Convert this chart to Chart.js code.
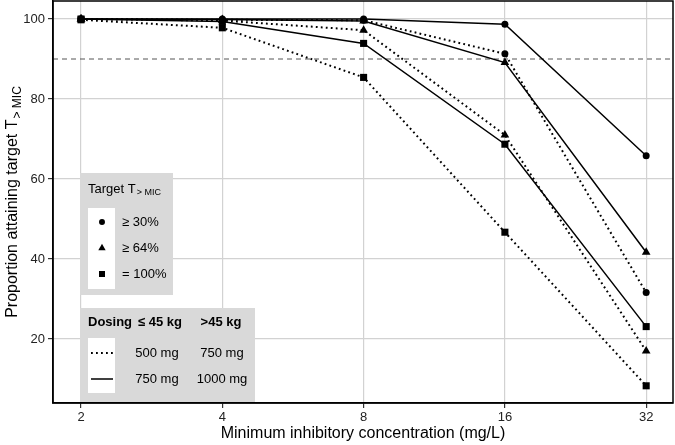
<!DOCTYPE html>
<html>
<head>
<meta charset="utf-8">
<script src="https://cdn.jsdelivr.net/npm/chart.js@4.4.1/dist/chart.umd.min.js"></script>
<style>
  html, body { margin: 0; padding: 0; background: #fff; }
  #wrap { width: 675px; height: 445px; }
</style>
</head>
<body>
<div id="wrap"><canvas id="myChart"></canvas></div>
<script>
// MIC values (mg/L) and tick labels
const mic = [2, 4, 8, 16, 32];
const yTicks = [20, 40, 60, 80, 100];
const targetLine = 90;

// proportion attaining target, low dose (dotted) and high dose (solid)
const t30Low = [100, 99.8, 99.7, 91.3, 31.6];
const t30High = [100, 100, 100, 98.7, 65.8];
const t64Low = [100, 99.6, 97.2, 71, 17];
const t64High = [100, 99.9, 99.5, 89.1, 41.7];
const t100Low = [99.8, 97.8, 85.4, 46.7, 8.3];
const t100High = [100, 99.4, 93.9, 68.7, 23.1];

const targetLabels = ["\u2265 30%", "\u2265 64%", "= 100%"];
const targetStyles = ["circle", "triangle", "rect"];
const doseHeader = ["Dosing", "\u2264 45 kg", ">45 kg"];
const doseLow = ["500 mg", "750 mg"];
const doseHigh = ["750 mg", "1000 mg"];

const FONT = "'Liberation Sans', Arial, sans-serif";
const radii = { circle: 3.5, triangle: 5, rect: 5 };
const noPad = () => ({ left: 0, top: 0, right: 0, bottom: 0 });

function pts(vals) {
  return vals.map((v, i) => ({ x: mic[i], y: v }));
}

function series(vals, style, dotted) {
  return {
    data: pts(vals),
    borderColor: "#000",
    backgroundColor: "#000",
    borderWidth: dotted ? 2 : 1.5,
    borderDash: dotted ? [1.8, 3.2] : [],
    pointStyle: style,
    pointRadius: radii[style],
    pointBorderWidth: 0,
    tension: 0,
    fill: false,
  };
}

const datasets = [
  series(t30Low, "circle", true),
  series(t30High, "circle", false),
  series(t64Low, "triangle", true),
  series(t64High, "triangle", false),
  series(t100Low, "rect", true),
  series(t100High, "rect", false),
];

// text with a subscript "> MIC"
function subText(ctx, main, x, y, size) {
  ctx.font = size + "px " + FONT;
  ctx.fillText(main, x, y);
  let w = ctx.measureText(main).width;
  ctx.font = Math.round(size * 0.72) + "px " + FONT;
  ctx.fillText("> MIC", x + w + 1, y + size * 0.28);
  return w + 1 + ctx.measureText("> MIC").width;
}

const extras = {
  id: "extras",
  beforeDatasetsDraw(chart) {
    const { ctx, chartArea: a, scales } = chart;
    const yp = scales.y.getPixelForValue(targetLine);
    ctx.save();
    ctx.strokeStyle = "#555";
    ctx.lineWidth = 1;
    ctx.setLineDash([5, 4]);
    ctx.beginPath();
    ctx.moveTo(a.left, yp);
    ctx.lineTo(a.right, yp);
    ctx.stroke();
    ctx.restore();
  },
  afterDraw(chart) {
    const { ctx, chartArea: a } = chart;
    ctx.save();
    // panel border
    ctx.strokeStyle = "#000";
    ctx.lineWidth = 1.5;
    ctx.strokeRect(a.left, a.top, a.right - a.left, a.bottom - a.top);

    ctx.fillStyle = "#000";
    ctx.textBaseline = "middle";

    // x title
    ctx.textAlign = "center";
    ctx.font = "16px " + FONT;
    ctx.fillText("Minimum inhibitory concentration (mg/L)", (a.left + a.right) / 2, 434);

    // y title
    ctx.save();
    ctx.translate(13, (a.top + a.bottom) / 2);
    ctx.rotate(-Math.PI / 2);
    ctx.textAlign = "left";
    ctx.font = "16px " + FONT;
    let w1 = ctx.measureText("Proportion attaining target T").width;
    ctx.font = "12px " + FONT;
    let w2 = ctx.measureText("> MIC").width;
    subText(ctx, "Proportion attaining target T", -(w1 + w2 + 1) / 2, 0, 16);
    ctx.restore();

    // target legend
    ctx.fillStyle = "#d9d9d9";
    ctx.fillRect(80, 173, 93, 122);
    ctx.fillStyle = "#fff";
    ctx.fillRect(88, 208, 27, 81);
    ctx.fillStyle = "#000";
    ctx.textAlign = "left";
    subText(ctx, "Target T", 88, 189, 13);
    ctx.font = "13px " + FONT;
    targetLabels.forEach((lab, i) => {
      const y = 222 + i * 26;
      const st = targetStyles[i];
      Chart.helpers.drawPoint(ctx, { pointStyle: st, radius: radii[st] * 0.85, rotation: 0, borderWidth: 0 }, 102, y);
      ctx.fillText(lab, 122, y);
    });

    // dosing legend
    ctx.fillStyle = "#d9d9d9";
    ctx.fillRect(80, 308, 175, 94);
    ctx.fillStyle = "#fff";
    ctx.fillRect(88, 338, 27, 55);
    ctx.fillStyle = "#000";
    ctx.font = "bold 13px " + FONT;
    ctx.fillText(doseHeader[0], 88, 322);
    ctx.textAlign = "center";
    ctx.fillText(doseHeader[1], 160, 322);
    ctx.fillText(doseHeader[2], 221, 322);
    ctx.font = "13px " + FONT;
    [353, 379].forEach((y, i) => {
      ctx.strokeStyle = "#000";
      ctx.lineWidth = i === 0 ? 2 : 1.5;
      ctx.setLineDash(i === 0 ? [1.8, 3.2] : []);
      ctx.beginPath();
      ctx.moveTo(91, y);
      ctx.lineTo(113, y);
      ctx.stroke();
      ctx.setLineDash([]);
      ctx.fillText(doseLow[i], 157, y);
      ctx.fillText(doseHigh[i], 222, y);
    });
    ctx.restore();
  },
};

const config = {
  type: "line",
  data: { datasets: datasets },
  options: {
    responsive: true,
    maintainAspectRatio: false,
    animation: false,
    layout: { autoPadding: false, padding: { left: 0, top: 1, right: 2, bottom: 0 } },
    plugins: { legend: { display: false }, tooltip: { enabled: false } },
    scales: {
      x: {
        type: "logarithmic",
        min: 1.743,
        max: 36.5,
        afterBuildTicks: (s) => { s.ticks = mic.map((v) => ({ value: v })); },
        afterFit: (s) => { s.height = 42; s.getPadding = noPad; },
        ticks: {
          callback: (v) => String(v),
          color: "#222",
          font: { family: FONT, size: 13 },
          padding: 2,
          maxRotation: 0,
          autoSkip: false,
        },
        grid: { color: "#d2d2d2", lineWidth: 1.2, tickColor: "#333", tickLength: 5 },
        border: { display: true, color: "#000", width: 1.5 },
      },
      y: {
        min: 4,
        max: 104.5,
        afterBuildTicks: (s) => { s.ticks = yTicks.map((v) => ({ value: v })); },
        afterFit: (s) => { s.width = 53; s.getPadding = noPad; },
        ticks: {
          color: "#222",
          font: { family: FONT, size: 13 },
          padding: 3,
        },
        grid: { color: "#d2d2d2", lineWidth: 1.2, tickColor: "#333", tickLength: 5 },
        border: { display: true, color: "#000", width: 1.5 },
      },
    },
  },
  plugins: [extras],
};

const myChart = new Chart(document.getElementById("myChart"), config);
</script>
</body>
</html>
